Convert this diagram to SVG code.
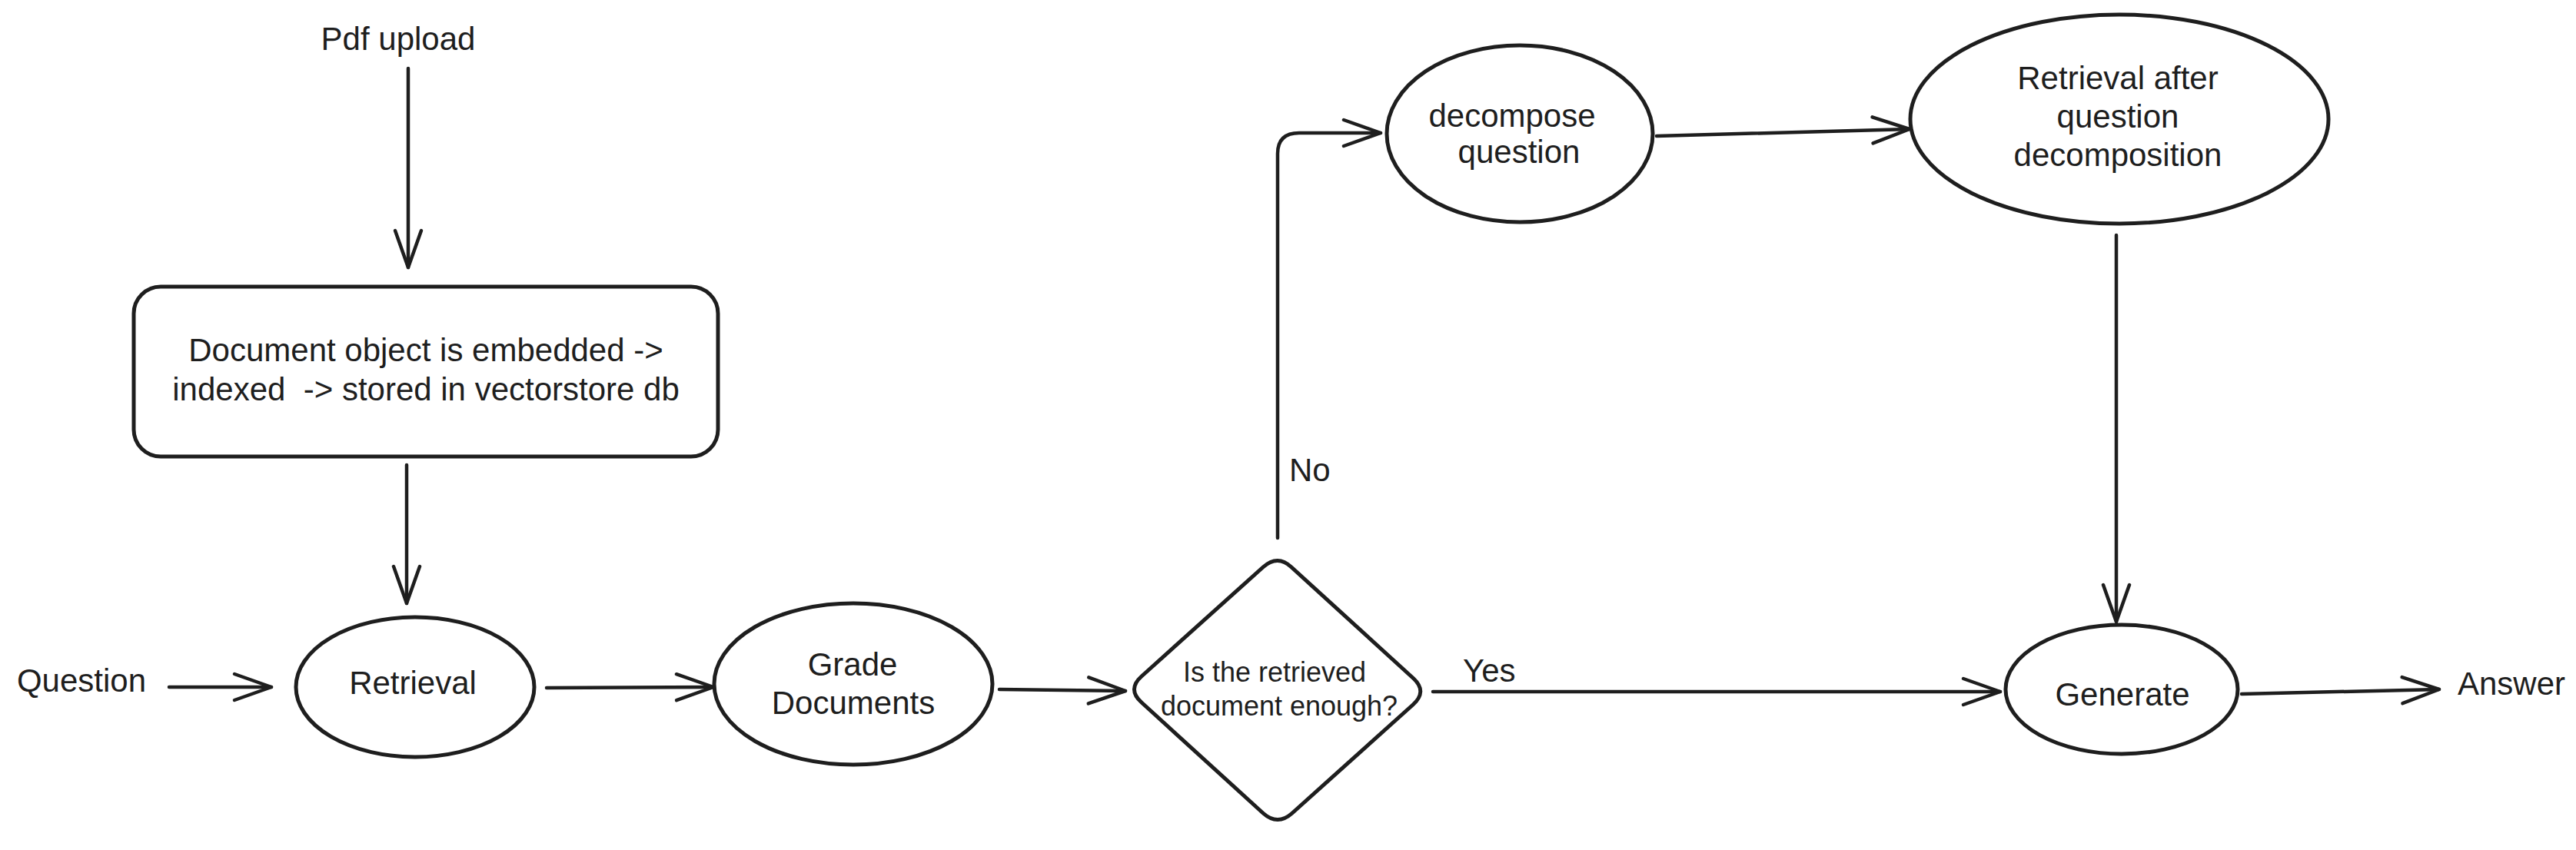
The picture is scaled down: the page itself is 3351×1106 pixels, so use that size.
<svg xmlns="http://www.w3.org/2000/svg" width="3351" height="1106" viewBox="0 0 3351 1106">
<style>
  .bg { fill: #ffffff; }
  .shape { fill: none; stroke: #1e1e1e; stroke-width: 5; stroke-linejoin: round; }
  .conn { fill: none; stroke: #1e1e1e; stroke-width: 4.5; stroke-linecap: round; stroke-linejoin: round; }
  .lbl { font-family: "Liberation Sans", Arial, sans-serif; font-size: 42px; fill: #1e1e1e; }
  .small { font-size: 36px; }
  .mid { text-anchor: middle; }
</style>
<defs>
  <marker id="arrow" viewBox="-60 -30 70 60" markerWidth="70" markerHeight="60" refX="0" refY="0" orient="auto" markerUnits="userSpaceOnUse">
    <path d="M-48,-17 L0,0 L-48,17" fill="none" stroke="#1e1e1e" stroke-width="4.5" stroke-linecap="round" stroke-linejoin="round"/>
  </marker>
</defs>
<rect class="bg" x="0" y="0" width="3351" height="1106"/>

<g id="connectors">
  <path class="conn" d="M531,89 L531,348" marker-end="url(#arrow)"/>
  <path class="conn" d="M529,605 L529,785" marker-end="url(#arrow)"/>
  <path class="conn" d="M220,894 L353,894" marker-end="url(#arrow)"/>
  <path class="conn" d="M711,895 L928,894" marker-end="url(#arrow)"/>
  <path class="conn" d="M1300,897 L1464,899" marker-end="url(#arrow)"/>
  <path class="conn" d="M1662,700 L1662,200 Q1662,173 1690,173 L1796,173" marker-end="url(#arrow)"/>
  <path class="conn" d="M1864,900 L2602,900" marker-end="url(#arrow)"/>
  <path class="conn" d="M2155,177 L2484,168" marker-end="url(#arrow)"/>
  <path class="conn" d="M2753,306 L2753,809" marker-end="url(#arrow)"/>
  <path class="conn" d="M2916,903 L3173,897" marker-end="url(#arrow)"/>
  <text class="lbl" x="1677" y="626">No</text>
  <text class="lbl" x="1903" y="887">Yes</text>
</g>

<g id="pdf-upload">
  <text class="lbl mid" x="518" y="65">Pdf upload</text>
</g>

<g id="embed-box">
  <rect class="shape" x="174" y="373" width="760" height="221" rx="35" ry="35"/>
  <text class="lbl mid" x="554" y="470">Document object is embedded -&gt;</text>
  <text class="lbl mid" x="554" y="521" xml:space="preserve">indexed  -&gt; stored in vectorstore db</text>
</g>

<g id="question">
  <text class="lbl mid" x="106" y="900">Question</text>
</g>

<g id="retrieval">
  <ellipse class="shape" cx="540" cy="894" rx="155" ry="91"/>
  <text class="lbl mid" x="537" y="903">Retrieval</text>
</g>

<g id="grade-documents">
  <ellipse class="shape" cx="1110" cy="890" rx="181" ry="105"/>
  <text class="lbl mid" x="1109" y="879">Grade</text>
  <text class="lbl mid" x="1110" y="929">Documents</text>
</g>

<g id="decision">
  <path class="shape" d="M1643,738 Q1662,721 1680,738 L1839,883 Q1857,900 1838,917 L1681,1058 Q1662,1075 1643,1058 L1485,914 Q1466,897 1485,880 Z"/>
  <text class="lbl small mid" x="1658" y="887">Is the retrieved</text>
  <text class="lbl small mid" x="1664" y="931">document enough?</text>
</g>

<g id="decompose-question">
  <ellipse class="shape" cx="1977" cy="174" rx="173" ry="115"/>
  <text class="lbl mid" x="1967" y="165">decompose</text>
  <text class="lbl mid" x="1976" y="212">question</text>
</g>

<g id="retrieval-after">
  <ellipse class="shape" cx="2757" cy="155" rx="272" ry="136"/>
  <text class="lbl mid" x="2755" y="116">Retrieval after</text>
  <text class="lbl mid" x="2755" y="166">question</text>
  <text class="lbl mid" x="2755" y="216">decomposition</text>
</g>

<g id="generate">
  <ellipse class="shape" cx="2760" cy="897" rx="151" ry="84"/>
  <text class="lbl mid" x="2761" y="918">Generate</text>
</g>

<g id="answer">
  <text class="lbl" x="3197" y="904">Answer</text>
</g>
</svg>
